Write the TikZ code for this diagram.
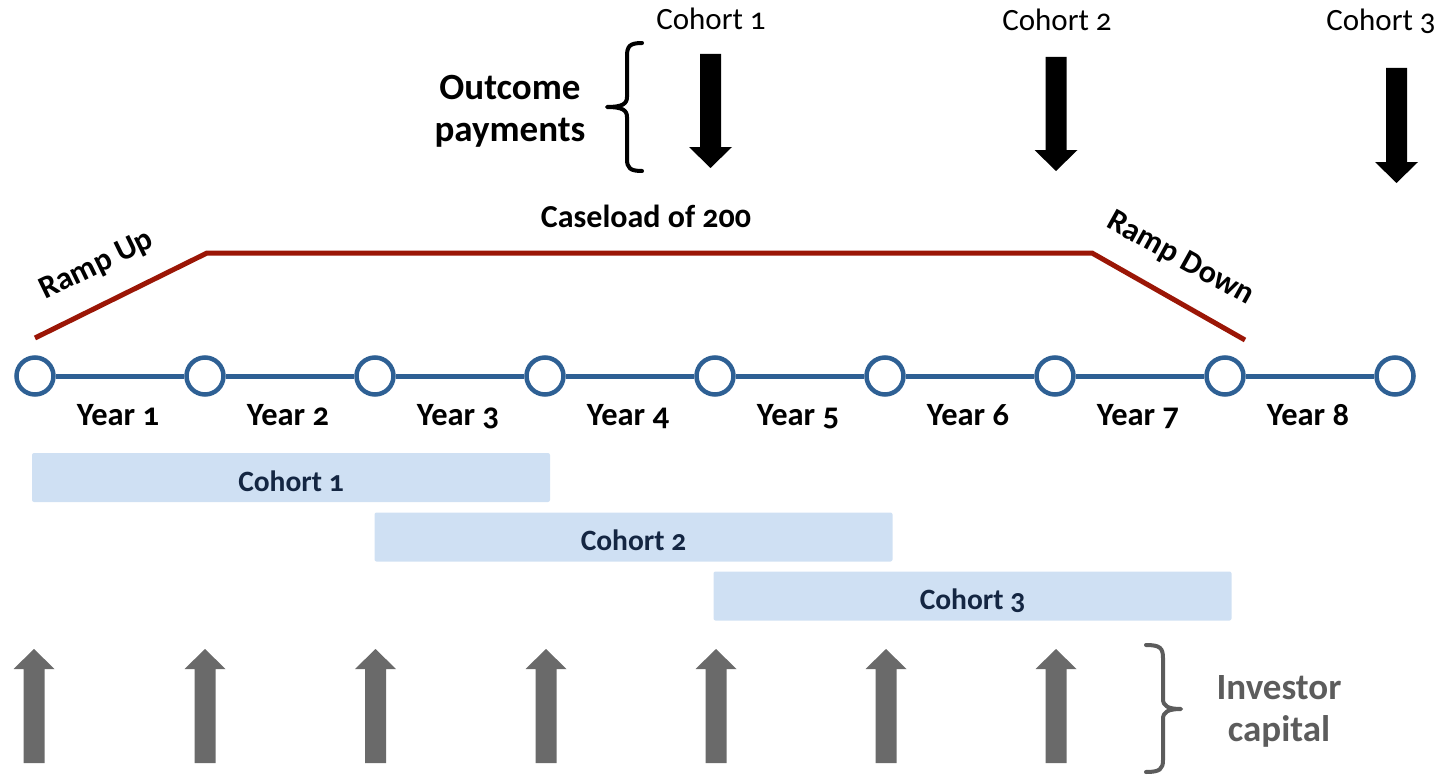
\documentclass[tikz,border=0pt]{standalone}
\usepackage{fontspec}
\setmainfont{Carlito}[Numbers=OldStyle]
\definecolor{lineblue}{RGB}{46,96,148}
\definecolor{rampred}{RGB}{155,22,6}
\definecolor{barblue}{RGB}{207,224,243}
\definecolor{navy}{RGB}{20,38,66}
\definecolor{capgray}{RGB}{106,106,106}
\definecolor{textgray}{RGB}{92,92,92}
\begin{document}
\begin{tikzpicture}[x=1pt,y=-1pt,
  milestone/.style={circle, draw=lineblue, line width=4.5pt, fill=white,
    minimum size=37pt, inner sep=0pt},
  timeline/.style={draw=lineblue, line width=5pt},
  ramp/.style={draw=rampred, line width=5pt},
  yearlabel/.style={font=\bfseries\fontsize{32.5}{36}\selectfont, anchor=base},
  rampfont/.style={font=\bfseries\fontsize{32}{36}\selectfont},
  bigbold/.style={font=\bfseries\fontsize{37}{42}\selectfont, align=center},
  toplabel/.style={font=\fontsize{31}{34}\selectfont, anchor=base},
  cohortbar/.style={rectangle, rounded corners=2pt, fill=barblue, inner sep=0pt,
    minimum width=518pt, minimum height=49pt, text height=27pt, text depth=0pt,
    font=\bfseries\fontsize{29.5}{32}\selectfont, text=navy},
  brace/.style={line width=4pt, line cap=round, line join=round},
  payarrow/.style={fill=black},
  caparrow/.style={fill=capgray},
]
\useasboundingbox (0,0) rectangle (1441,776);

% milestones along the timeline
\foreach \i in {1,...,9}
  \node[milestone] (m\i) at ({35+170*(\i-1)},376) {};
\foreach \i [evaluate=\i as \j using int(\i+1)] in {1,...,8}
  \draw[timeline] (m\i) -- (m\j);

% year labels between milestones
\foreach \i in {1,...,8}
  \node[yearlabel] (y\i) at ({118+170*(\i-1)},425) {Year \i};

% caseload profile
\coordinate (r0) at (35,338);
\coordinate (r1) at (207,253);
\coordinate (r2) at (1092,253);
\coordinate (r3) at (1245,340);
\draw[ramp] (r0) -- (r1) -- (r2) -- (r3);
\node[rampfont, rotate=26, inner sep=0pt] (rampup) at (97,266) {Ramp Up};
\node[rampfont, rotate=-29, inner sep=0pt] (rampdown) at (1180,259) {Ramp Down};
\node[rampfont, anchor=base] (caseload) at (646,227) {Caseload of 200};

% cohort enrolment bars
\node[cohortbar] (c1) at (291,477.5) {Cohort 1};
\node[cohortbar] (c2) at (633.5,537) {Cohort 2};
\node[cohortbar] (c3) at (972.5,596) {Cohort 3};

% outcome payments per cohort
\node[toplabel] (p1) at (711,30) {Cohort 1};
\node[toplabel] (p2) at (1057,31) {Cohort 2};
\node[toplabel] (p3) at (1381,31) {Cohort 3};
\foreach \x/\t/\b/\p in {710.5/54/147/168, 1056/57/150/171, 1396.5/68/162/183}
  \fill[payarrow] (\x-10.5,\t) -- (\x+10.5,\t) -- (\x+10.5,\b) -- (\x+21.5,\b)
     -- (\x,\p) -- (\x-21.5,\b) -- (\x-10.5,\b) -- cycle;

\draw[brace] (642,43) .. controls (630,43) and (627,46) .. (627,56) -- (627,97)
  .. controls (627,104) and (622,107) .. (607,107)
  .. controls (622,107) and (627,110) .. (627,117) -- (627,159)
  .. controls (627,168) and (630,171) .. (642,171);
\node[bigbold] (outcome) at (510,111) {Outcome\\payments};

% investor capital inflows
\foreach \x in {34,205,375.5,546,716,886,1056}
  \fill[caparrow] (\x-10.5,763) -- (\x+10.5,763) -- (\x+10.5,669) -- (\x+20.5,669)
     -- (\x,649) -- (\x-20.5,669) -- (\x-10.5,669) -- cycle;

\draw[brace, draw=textgray] (1146,645) .. controls (1160,645) and (1163,648) .. (1163,658) -- (1163,699)
  .. controls (1163,706) and (1168,709) .. (1181,709)
  .. controls (1168,709) and (1163,712) .. (1163,719) -- (1163,760)
  .. controls (1163,769) and (1160,772) .. (1146,772);
\node[bigbold, text=textgray] (investor) at (1279,711) {Investor\\capital};
\end{tikzpicture}
\end{document}
